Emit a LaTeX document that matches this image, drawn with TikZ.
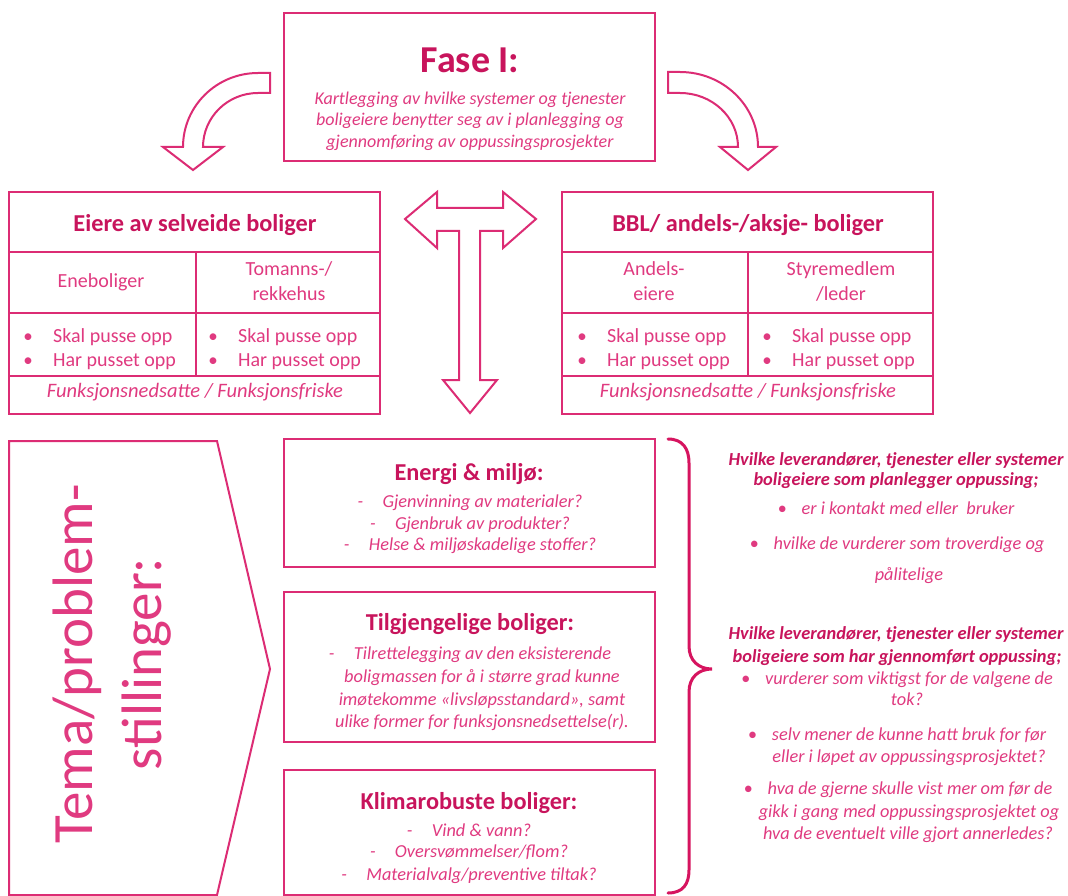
\documentclass[tikz,border=0pt]{standalone}
\usepackage{fontspec}
\setmainfont{Carlito}
\definecolor{lineC}{HTML}{DC2C74}
\definecolor{headC}{HTML}{C8145C}
\definecolor{textC}{HTML}{E03A80}
\definecolor{braceC}{HTML}{D6145F}
\newcommand\pxsize[1]{\fontsize{#1}{#1}\selectfont}
\begin{document}
\begin{tikzpicture}[x=1pt,y=-1pt,
  box/.style={draw=lineC, line width=2pt},
  bigarrow/.style={draw=lineC, line width=2pt, line join=miter, fill=white},
  phase/.style={text=headC, font=\bfseries\pxsize{38}, anchor=mid, inner sep=0},
  lead/.style={text=textC, font=\itshape\pxsize{18}, anchor=mid, inner sep=0},
  ttl/.style={text=headC, font=\bfseries\pxsize{24.3}, anchor=mid, inner sep=0},
  sub/.style={text=textC, font=\pxsize{20}, anchor=mid, inner sep=0},
  itm/.style={text=textC, font=\pxsize{20}, anchor=mid west, inner sep=0},
  bul/.style={text=textC, font=\pxsize{19}, anchor=mid, inner sep=0},
  note/.style={text=textC, font=\itshape\pxsize{20.5}, anchor=mid, inner sep=0},
  que/.style={text=textC, font=\itshape\pxsize{18.3}, anchor=mid, inner sep=0},
  tema/.style={text=textC, font=\pxsize{57}, anchor=mid, inner sep=0, rotate=90},
  rhead/.style={text=headC, font=\bfseries\itshape\pxsize{18.4}, anchor=mid, inner sep=0},
  rtxt/.style={text=textC, font=\itshape\pxsize{18.3}, anchor=mid, inner sep=0}
]
\useasboundingbox (0,0) rectangle (1068,896);
\fill[white] (0,0) rectangle (1068,896);

% ---- Phase I box
\draw[box] (284,13) rectangle (655,161);
\node[phase] (fase) at (470,70) {Fase I:};
\node[lead] (lead1) at (470,102) {Kartlegging av hvilke systemer og tjenester};
\node[lead] (lead2) at (470,123) {boligeiere benytter seg av i planlegging og};
\node[lead] (lead3) at (470,145) {gjennomføring av oppussingsprosjekter};

% ---- curved block arrows down to the two owner groups
\draw[bigarrow] (183,147) -- (163,147) -- (193,170) -- (223,147) -- (203,147)
  .. controls (203,117.2) and (227.6,93) .. (258,93) -- (270,93) -- (270,73) -- (258,73)
  .. controls (216.6,73) and (183,106.1) .. (183,147) -- cycle;
\draw[bigarrow] (758,147) -- (776,147) -- (748,170) -- (720,147) -- (738,147)
  .. controls (738,117.2) and (712,93) .. (680,93) -- (668,93) -- (668,72) -- (680,72)
  .. controls (723.1,72) and (758,105.6) .. (758,147) -- cycle;

% ---- T-shaped double arrow between the groups
\draw[bigarrow] (405,219) -- (437,192) -- (437,208) -- (503,208) -- (503,192) -- (536,219)
  -- (503,248) -- (503,231) -- (480,231) -- (480,380) -- (497,380) -- (470,413)
  -- (443,380) -- (459,380) -- (459,231) -- (437,231) -- (437,248) -- cycle;

% ---- owners of private homes
\draw[box] (9,192) rectangle (380,414);
\draw[box] (9,252) -- (380,252) (9,313) -- (380,313) (9,376) -- (380,376) (196,252) -- (196,376);
\node[ttl] (selv) at (195,229) {Eiere av selveide boliger};
\node[sub] (ene) at (101,285) {Eneboliger};
\node[sub] (toma) at (289,273) {Tomanns-/};
\node[sub] (tomb) at (289,298) {rekkehus};
\node[bul] (sb1) at (28,340) {\textbullet};
\node[itm] (st1) at (53,340) {Skal pusse opp};
\node[bul] (sb2) at (28,364) {\textbullet};
\node[itm] (st2) at (53,364) {Har pusset opp};
\node[bul] (sb3) at (213,340) {\textbullet};
\node[itm] (st3) at (238,340) {Skal pusse opp};
\node[bul] (sb4) at (213,364) {\textbullet};
\node[itm] (st4) at (238,364) {Har pusset opp};
\node[note] (sfn) at (195,395) {Funksjonsnedsatte / Funksjonsfriske};

% ---- cooperative / shared ownership
\draw[box] (562,192) rectangle (933,414);
\draw[box] (562,252) -- (933,252) (562,313) -- (933,313) (562,376) -- (933,376) (748,252) -- (748,376);
\node[ttl] (bbl) at (748,229) {BBL/ andels-/aksje- boliger};
\node[sub] (anda) at (654,273) {Andels-};
\node[sub] (andb) at (654,298) {eiere};
\node[sub] (styra) at (841,273) {Styremedlem};
\node[sub] (styrb) at (841,298) {/leder};
\node[bul] (bb1) at (582,340) {\textbullet};
\node[itm] (bt1) at (607,340) {Skal pusse opp};
\node[bul] (bb2) at (582,364) {\textbullet};
\node[itm] (bt2) at (607,364) {Har pusset opp};
\node[bul] (bb3) at (767,340) {\textbullet};
\node[itm] (bt3) at (792,340) {Skal pusse opp};
\node[bul] (bb4) at (767,364) {\textbullet};
\node[itm] (bt4) at (792,364) {Har pusset opp};
\node[note] (bfn) at (748,395) {Funksjonsnedsatte / Funksjonsfriske};

% ---- themes chevron
\draw[box, line join=miter] (9,441) -- (217,441) -- (270,669) -- (217,895) -- (9,895) -- cycle;
\node[tema] (tema1) at (90,664) {Tema/problem-};
\node[tema] (tema2) at (159,664) {stillinger:};

% ---- theme boxes
\draw[box] (284,439) rectangle (655,567);
\node[ttl] (energi) at (469,478) {Energi \& miljø:};
\node[que] (e1) at (470,505) {\makebox[25pt][l]{-}Gjenvinning av materialer?};
\node[que] (e2) at (470,527) {\makebox[25pt][l]{-}Gjenbruk av produkter?};
\node[que] (e3) at (470,548) {\makebox[25pt][l]{-}Helse \& miljøskadelige stoffer?};

\draw[box] (284,592) rectangle (655,742);
\node[ttl] (tilgj) at (470,628) {Tilgjengelige boliger:};
\node[que] (t1) at (470,657) {\makebox[25pt][l]{-}Tilrettelegging av den eksisterende};
\node[que] (t2) at (482,680) {boligmassen for å i større grad kunne};
\node[que] (t3) at (482,703) {imøtekomme «livsløpsstandard», samt};
\node[que] (t4) at (482,725) {ulike former for funksjonsnedsettelse(r).};

\draw[box] (284,770) rectangle (655,895);
\node[ttl] (klima) at (469,807) {Klimarobuste boliger:};
\node[que] (k1) at (469,834) {\makebox[25pt][l]{-}Vind \& vann?};
\node[que] (k2) at (469,855) {\makebox[25pt][l]{-}Oversvømmelser/flom?};
\node[que] (k3) at (469,878) {\makebox[25pt][l]{-}Materialvalg/preventive tiltak?};

% ---- brace
\draw[draw=braceC, line width=3pt, line cap=round]
  (668,439) .. controls (683,439) and (689,449) .. (689,463) -- (689,646)
  .. controls (689,661) and (699,669) .. (712,669)
  .. controls (699,669) and (689,677) .. (689,692) -- (689,870)
  .. controls (689,884) and (683,893) .. (668,893);

% ---- questions for owners planning renovation
\node[rhead] (qa1) at (896,463) {Hvilke leverandører, tjenester eller systemer};
\node[rhead] (qa2) at (896,483) {boligeiere som planlegger oppussing;};
\node[rtxt] (qa3) at (896,512) {\makebox[24pt][l]{\textbullet}er i kontakt med eller\ \ bruker};
\node[rtxt] (qa4) at (897,547) {\makebox[24pt][l]{\textbullet}hvilke de vurderer som troverdige og};
\node[rtxt] (qa5) at (909,578) {pålitelige};

% ---- questions for owners who have renovated
\node[rhead] (qb1) at (896,637) {Hvilke leverandører, tjenester eller systemer};
\node[rhead] (qb2) at (897,660) {boligeiere som har gjennomført oppussing;};
\node[rtxt] (qb3) at (897,682) {\makebox[24pt][l]{\textbullet}vurderer som viktigst for de valgene de};
\node[rtxt] (qb4) at (907,703) {tok?};
\node[rtxt] (qb5) at (897,738) {\makebox[24pt][l]{\textbullet}selv mener de kunne hatt bruk for før};
\node[rtxt] (qb6) at (909,760) {eller i løpet av oppussingsprosjektet?};
\node[rtxt] (qb7) at (898,792) {\makebox[24pt][l]{\textbullet}hva de gjerne skulle vist mer om før de};
\node[rtxt] (qb8) at (909,815) {gikk i gang med oppussingsprosjektet og};
\node[rtxt] (qb9) at (908,837) {hva de eventuelt ville gjort annerledes?};
\end{tikzpicture}
\end{document}
